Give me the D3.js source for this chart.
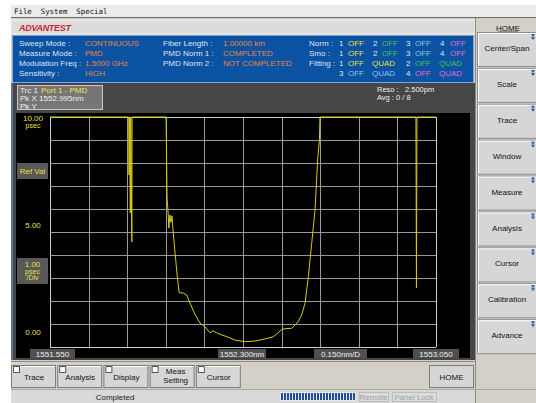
<!DOCTYPE html>
<html>
<head>
<meta charset="utf-8">
<script src="https://cdn.jsdelivr.net/npm/d3@7"></script>
<style>
  body { margin: 0; background: #fff; }
  svg { display: block; }
  text { font-family: "Liberation Sans", Arial, sans-serif; font-size: 8px; }
</style>
</head>
<body>
<svg id="chart" width="536" height="403"></svg>
<script>
// trace 1 (PMD). values above 10 psec are pinned at the top
const wavelength = [1551.550, 1551.856, 1551.857, 1551.859, 1551.862, 1551.864, 1551.868, 1551.869,
  1552.001, 1552.004, 1552.005, 1552.009, 1552.012, 1552.016, 1552.020, 1552.024, 1552.028,
  1552.036, 1552.044, 1552.052, 1552.067, 1552.081, 1552.094, 1552.113, 1552.133, 1552.152,
  1552.172, 1552.183, 1552.198, 1552.218, 1552.237, 1552.269, 1552.308, 1552.347, 1552.366,
  1552.393, 1552.418, 1552.436, 1552.450, 1552.467, 1552.489, 1552.502, 1552.515, 1552.529,
  1552.541, 1552.554, 1552.567, 1552.580, 1552.590, 1552.597, 1552.599, 1552.972, 1552.974,
  1552.976, 1553.050]
const pmd = [10, 10, 7.48, 10, 5.83, 10, 4.57, 10,
  10, 7.35, 6.48, 5.83, 5.17, 5.74, 5.43, 5.70, 5.09,
  4.09, 3.13, 2.36, 2.35, 2.26, 1.91, 1.43, 1.04, 0.88,
  0.62, 0.70, 0.62, 0.52, 0.45, 0.30, 0.23, 0.26, 0.30,
  0.37, 0.45, 0.61, 0.77, 0.80, 0.81, 0.96, 1.10, 1.43,
  1.90, 3.06, 4.51, 5.96, 8.13, 9.00, 10, 10, 2.57,
  10, 10]

const xStart = 1551.550, xStop = 1553.050, xStep = 0.150
const yRef = 10, yDiv = 1.00, divisions = 10
const xTickLabels = ['1551.550', '1552.300nm', '0.150nm/D', '1553.050']
const yTickLabels = ['10.00', '5.00', '0.00']

const menuItems = ['File', 'System', 'Special']
const infoLabels = ['Sweep Mode :', 'Measure Mode :', 'Modulation Freq :', 'Sensitivity :']
const infoValues = ['CONTINUOUS', 'PMD', '1.5000 GHz', 'HIGH']
const infoLabels2 = ['Fiber Length :', 'PMD Norm 1 :', 'PMD Norm 2 :']
const infoValues2 = ['1.00000 km', 'COMPLETED', 'NOT COMPLETED']
const softKeys = ['Center/Span', 'Scale', 'Trace', 'Window', 'Measure', 'Analysis', 'Cursor', 'Calibration', 'Advance']
const bottomKeys = ['Trace', 'Analysis', 'Display', 'Meas|Setting', 'Cursor']

let svg = d3.select('#chart')

// --- window chrome ---
svg.append('rect').attr('x', 11).attr('y', 5).attr('width', 525).attr('height', 398).attr('fill', '#d4d0c8')
svg.append('rect').attr('x', 11).attr('y', 5).attr('width', 525).attr('height', 12).attr('fill', '#ececec')
svg.append('line').attr('x1', 11).attr('x2', 536).attr('y1', 17.5).attr('y2', 17.5).attr('stroke', '#6a6a6a')
let mx = 14
menuItems.forEach(m => {
    svg.append('text').attr('x', mx).attr('y', 13.5).text(m)
        .style('font-family', '"DejaVu Sans Mono", monospace').style('font-size', '7.4px').attr('fill', '#111')
    mx += (m.length + 2) * 4.45
})
svg.append('rect').attr('x', 11).attr('y', 20).attr('width', 464).attr('height', 14).attr('fill', '#dcdcdc')
    .attr('stroke', '#f4f4f4')
svg.append('text').attr('x', 19).attr('y', 31).text('ADVANTEST')
    .style('font-size', '9px').style('font-weight', 'bold').style('font-style', 'italic')
    .attr('fill', '#c8282c').attr('textLength', 52)

// --- info panel ---
svg.append('rect').attr('x', 12.5).attr('y', 35.5).attr('width', 461).attr('height', 47)
    .attr('fill', '#0c52a2').attr('stroke', '#7fa6d4')
let rowY = i => 46 + i * 10
infoLabels.forEach((t, i) => svg.append('text').attr('x', 19).attr('y', rowY(i)).attr('fill', '#dce6f2').text(t))
infoValues.forEach((t, i) => svg.append('text').attr('x', 85).attr('y', rowY(i)).attr('fill', '#e5853e').text(t))
infoLabels2.forEach((t, i) => svg.append('text').attr('x', 163).attr('y', rowY(i)).attr('fill', '#dce6f2').text(t))
infoValues2.forEach((t, i) => svg.append('text').attr('x', 223).attr('y', rowY(i)).attr('fill', '#e5853e').text(t))

const trcColor = {1: '#e4e03a', 2: '#46c04a', 3: '#8cc4e8', 4: '#e066d8'}
let put = (x, y, t, c) => svg.append('text').attr('x', x).attr('y', y).attr('fill', c).text(t)
put(309, rowY(0), 'Norm :', '#dce6f2')
put(309, rowY(1), 'Smo :', '#dce6f2')
put(309, rowY(2), 'Fitting :', '#dce6f2')
;[0, 1].forEach(r => {
    [[339, 348, 1], [373, 382, 2], [406, 415, 3], [440, 450, 4]].forEach(([nx, ox, n]) => {
        put(nx, rowY(r), n, '#dce6f2')
        put(ox, rowY(r), 'OFF', trcColor[n])
    })
})
;[[2, 1, 2], [3, 3, 4]].forEach(([r, a, b]) => {
    put(339, rowY(r), a, '#dce6f2'); put(348, rowY(r), 'OFF', trcColor[a]); put(372, rowY(r), 'QUAD', trcColor[a])
    put(406, rowY(r), b, '#dce6f2'); put(415, rowY(r), 'OFF', trcColor[b]); put(439, rowY(r), 'QUAD', trcColor[b])
})

// --- display area ---
svg.append('rect').attr('x', 11).attr('y', 83).attr('width', 464).attr('height', 277).attr('fill', '#464646')
svg.append('line').attr('x1', 12).attr('x2', 12).attr('y1', 83).attr('y2', 360).attr('stroke', '#6f9fd0')
svg.append('rect').attr('x', 17.5).attr('y', 85.5).attr('width', 85).attr('height', 24)
    .attr('fill', '#767676').attr('stroke', '#c8c8c8')
put(20, 93, 'Trc 1', '#f0f0f0')
put(41, 93, 'Port 1 - PMD', '#f0e840')
put(20, 101, 'Pk X  1552.995nm', '#f0f0f0')
put(20, 109, 'Pk Y', '#f0f0f0')
put(377, 92, 'Reso :', '#f0f0f0').style('font-size', '7.5px')
put(405, 92, '2.500pm', '#f0f0f0').style('font-size', '7.5px')
put(377, 100, 'Avg : 0 / 8', '#f0f0f0').style('font-size', '7.5px')

svg.append('rect').attr('x', 16).attr('y', 113).attr('width', 454).attr('height', 245).attr('fill', '#000')

let x = d3.scaleLinear().domain([xStart, xStop]).range([50, 436])
let y = d3.scaleLinear().domain([yRef - divisions * yDiv, yRef]).range([347, 117]).clamp(true)

let grid = svg.append('g')
grid.selectAll('line.v')
    .data(d3.range(divisions + 1).map(i => xStart + i * xStep))
    .join('line')
    .attr('x1', d => Math.round(x(d)) + .5).attr('x2', d => Math.round(x(d)) + .5)
    .attr('y1', y(10)).attr('y2', y(0))
    .attr('stroke', (d, i) => i == 0 || i == divisions ? '#cfcfcf' : '#9a9a9a')
grid.selectAll('line.h')
    .data(d3.range(divisions + 1).map(i => i * yDiv))
    .join('line').attr('class', 'h')
    .attr('y1', d => Math.round(y(d)) + .5).attr('y2', d => Math.round(y(d)) + .5)
    .attr('x1', x(xStart)).attr('x2', x(xStop))
    .attr('stroke', (d, i) => i == 0 || i == divisions ? '#cfcfcf' : '#9a9a9a')

// y labels
const yLabelPos = [120.5, 228, 335]
yTickLabels.forEach((t, i) => put(33, yLabelPos[i], t, '#e8e040').attr('text-anchor', 'middle'))
put(33, 128, 'psec', '#e8e040').attr('text-anchor', 'middle').style('font-size', '7px')
svg.append('rect').attr('x', 17).attr('y', 163).attr('width', 31).attr('height', 16).attr('fill', '#585858')
put(32.5, 174, 'Ref Val', '#e8e040').attr('text-anchor', 'middle')
svg.append('rect').attr('x', 17).attr('y', 258).attr('width', 31).attr('height', 26).attr('fill', '#585858')
put(32.5, 267, '1.00', '#e8e040').attr('text-anchor', 'middle')
put(32.5, 274, 'psec', '#e8e040').attr('text-anchor', 'middle').style('font-size', '7px')
put(32.5, 280, '/Div', '#e8e040').attr('text-anchor', 'middle').style('font-size', '7px')

// x labels
const xLabelBox = [[30, 45], [218, 48], [314, 53], [413, 46]]
xTickLabels.forEach((t, i) => {
    let [bx, bw] = xLabelBox[i]
    svg.append('rect').attr('x', bx).attr('y', 349).attr('width', bw).attr('height', 9).attr('fill', '#505050')
    put(bx + bw / 2, 356.5, t, '#ececec').attr('text-anchor', 'middle')
})

// trace
let line = d3.line().x(d => x(d[0])).y(d => y(d[1]))
svg.append('path')
    .datum(wavelength.map((w, i) => [w, pmd[i]]))
    .attr('d', line)
    .style('fill', 'none')
    .style('stroke', '#d6cc10')
    .style('stroke-width', 1)

// --- right soft keys ---
svg.append('line').attr('x1', 475.5).attr('x2', 475.5).attr('y1', 18).attr('y2', 403).attr('stroke', '#8a8a8a')
put(508, 31, 'HOME', '#111').attr('text-anchor', 'middle')
svg.append('line').attr('x1', 498).attr('x2', 518).attr('y1', 32).attr('y2', 32).attr('stroke', '#111').attr('stroke-width', .7)
softKeys.forEach((k, i) => {
    let top = 32 + i * 35.9
    let g = svg.append('g')
    g.append('rect').attr('x', 477.5).attr('y', top + .5).attr('width', 60).attr('height', 34)
        .attr('fill', '#d6d6d6').attr('stroke', '#8c8c8c')
    g.append('line').attr('x1', 478).attr('x2', 536).attr('y1', top + 1.5).attr('y2', top + 1.5).attr('stroke', '#fff')
    g.append('line').attr('x1', 478.5).attr('x2', 478.5).attr('y1', top + 1).attr('y2', top + 34).attr('stroke', '#fff')
    g.append('path').attr('d', `M531,${top + 2}h4l-2,3z M531,${top + 5}h4l-2,3z`).attr('fill', '#2a5cb4')
    g.append('text').attr('x', 507).attr('y', top + 19).attr('text-anchor', 'middle').attr('fill', '#111').text(k)
})

// --- bottom keys ---
svg.append('line').attr('x1', 11).attr('x2', 475).attr('y1', 361.5).attr('y2', 361.5).attr('stroke', '#8a8a8a')
bottomKeys.forEach((k, i) => {
    let left = 11 + i * 46.2
    let g = svg.append('g')
    g.append('rect').attr('x', left + .5).attr('y', 365.5).attr('width', 44).attr('height', 22)
        .attr('fill', '#d6d6d6').attr('stroke', '#7c7c7c')
    g.append('line').attr('x1', left + 1).attr('x2', left + 44).attr('y1', 366.5).attr('y2', 366.5).attr('stroke', '#fff')
    g.append('rect').attr('x', left + 2.5).attr('y', 366.5).attr('width', 6).attr('height', 6)
        .attr('fill', '#fff').attr('stroke', '#555')
    let parts = k.split('|')
    parts.forEach((p, j) => g.append('text').attr('x', left + 23 + (parts.length > 1 ? 3 : 0))
        .attr('y', parts.length > 1 ? 374 + j * 9 : 380).attr('text-anchor', 'middle').attr('fill', '#111').text(p))
})
svg.append('rect').attr('x', 429.5).attr('y', 365.5).attr('width', 44).attr('height', 22)
    .attr('fill', '#d6d6d6').attr('stroke', '#7c7c7c')
put(451.5, 379.5, 'HOME', '#111').attr('text-anchor', 'middle')

// --- status bar ---
svg.append('rect').attr('x', 11).attr('y', 389).attr('width', 464).attr('height', 14).attr('fill', '#d9d9d9')
svg.append('line').attr('x1', 11).attr('x2', 536).attr('y1', 389.5).attr('y2', 389.5).attr('stroke', '#a8a8a8')
put(115, 399.5, 'Completed', '#222').attr('text-anchor', 'middle')
svg.append('rect').attr('x', 280).attr('y', 392).attr('width', 76).attr('height', 9).attr('fill', '#e8e8e8')
svg.selectAll('rect.seg').data(d3.range(25)).join('rect').attr('class', 'seg')
    .attr('x', d => 281 + d * 3).attr('y', 393).attr('width', 2).attr('height', 7).attr('fill', '#1f4f9a')
;[['Remote', 359, 29], ['Panel Lock', 392, 44]].forEach(([t, bx, bw]) => {
    svg.append('rect').attr('x', bx + .5).attr('y', 392.5).attr('width', bw).attr('height', 9)
        .attr('fill', '#dcdcdc').attr('stroke', '#bdbdbd')
    put(bx + bw / 2, 400, t, '#a0a0a0').attr('text-anchor', 'middle')
})
</script>
</body>
</html>
